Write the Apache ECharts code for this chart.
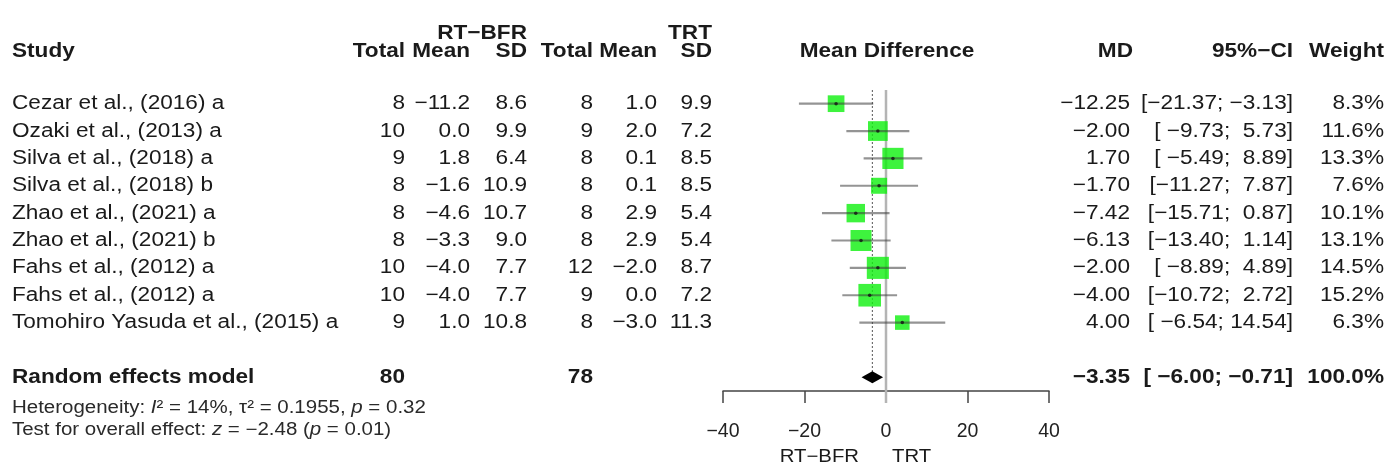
<!DOCTYPE html>
<html>
<head>
<meta charset="utf-8">
<script src="https://cdn.jsdelivr.net/npm/echarts@6/dist/echarts.min.js"></script>
<style>
  html, body { margin: 0; padding: 0; background: #fff; }
  #chart { width: 1400px; height: 470px; }
</style>
</head>
<body>
<div id="chart"></div>
<script>
// study data
const studies = [
  'Cezar et al., (2016) a',
  'Ozaki et al., (2013) a',
  'Silva et al., (2018) a',
  'Silva et al., (2018) b',
  'Zhao et al., (2021) a',
  'Zhao et al., (2021) b',
  'Fahs et al., (2012) a',
  'Fahs et al., (2012) a',
  'Tomohiro Yasuda et al., (2015) a'
];
const totalE = [8, 10, 9, 8, 8, 8, 10, 10, 9];
const meanE = [-11.2, 0.0, 1.8, -1.6, -4.6, -3.3, -4.0, -4.0, 1.0];
const sdE = [8.6, 9.9, 6.4, 10.9, 10.7, 9.0, 7.7, 7.7, 10.8];
const totalC = [8, 9, 8, 8, 8, 8, 12, 9, 8];
const meanC = [1.0, 2.0, 0.1, 0.1, 2.9, 2.9, -2.0, 0.0, -3.0];
const sdC = [9.9, 7.2, 8.5, 8.5, 5.4, 5.4, 8.7, 7.2, 11.3];
const md = [-12.25, -2.00, 1.70, -1.70, -7.42, -6.13, -2.00, -4.00, 4.00];
const ciLow = [-21.37, -9.73, -5.49, -11.27, -15.71, -13.40, -8.89, -10.72, -6.54];
const ciHigh = [-3.13, 5.73, 8.89, 7.87, 0.87, 1.14, 4.89, 2.72, 14.54];
const weight = [8.3, 11.6, 13.3, 7.6, 10.1, 13.1, 14.5, 15.2, 6.3];

const pooledLabel = 'Random effects model';
const pooledTotalE = 80;
const pooledTotalC = 78;
const pooledMd = -3.35;
const pooledLow = -6.00;
const pooledHigh = -0.71;
const pooledWeight = 100.0;

const FONT = '"Liberation Sans", Arial, sans-serif';
const SX = 1.13;
const TXT = '#1a1a1a';
const pooledRow = studies.length + 1;

function fmt(v, d) {
  return (v < 0 ? '\u2212' : '') + Math.abs(v).toFixed(d);
}
function pad(s, w) {
  while (s.length < w) s = ' ' + s;
  return s;
}
function ci(lo, hi) {
  return '[' + pad(fmt(lo, 2), 6) + '; ' + pad(fmt(hi, 2), 5) + ']';
}
function txt(x, y, s, align, bold, size) {
  return {
    type: 'text', x: x, y: y, scaleX: SX,
    style: {
      text: s, fill: TXT, align: align, verticalAlign: 'middle',
      font: (bold ? 'bold ' : '') + (size || 20) + 'px ' + FONT
    }
  };
}

const chart = echarts.init(document.getElementById('chart'));

const tableData = studies.map((s, i) => [0, i]).concat([[0, pooledRow]]);

function renderTable(params, api) {
  const i = params.dataIndex;
  const y = api.coord([0, api.value(1)])[1];
  if (i < studies.length) {
    return {
      type: 'group',
      children: [
        txt(12, y, studies[i], 'left'),
        txt(405, y, String(totalE[i]), 'right'),
        txt(470, y, fmt(meanE[i], 1), 'right'),
        txt(527, y, fmt(sdE[i], 1), 'right'),
        txt(593, y, String(totalC[i]), 'right'),
        txt(657, y, fmt(meanC[i], 1), 'right'),
        txt(712, y, fmt(sdC[i], 1), 'right'),
        txt(1130, y, fmt(md[i], 2), 'right'),
        txt(1293, y, ci(ciLow[i], ciHigh[i]), 'right'),
        txt(1384, y, weight[i].toFixed(1) + '%', 'right')
      ]
    };
  }
  const het = {
    type: 'text', x: 12, y: y + 31, scaleX: 1.17,
    style: {
      text: 'Heterogeneity: {i|I}\u00b2 = 14%, \u03c4\u00b2 = 0.1955, {i|p} = 0.32',
      fill: '#2a2a2a', align: 'left', verticalAlign: 'middle',
      font: '17.5px ' + FONT,
      rich: {
        i: { fontStyle: 'italic', fontSize: 17.5, fontFamily: 'Liberation Sans' }
      }
    }
  };
  const test = {
    type: 'text', x: 12, y: y + 53, scaleX: 1.17,
    style: {
      text: 'Test for overall effect: {i|z} = \u22122.48 ({i|p} = 0.01)',
      fill: '#2a2a2a', align: 'left', verticalAlign: 'middle',
      font: '17.5px ' + FONT,
      rich: {
        i: { fontStyle: 'italic', fontSize: 17.5, fontFamily: 'Liberation Sans' }
      }
    }
  };
  return {
    type: 'group',
    children: [
      txt(12, y, pooledLabel, 'left', true),
      txt(405, y, String(pooledTotalE), 'right', true),
      txt(593, y, String(pooledTotalC), 'right', true),
      txt(1130, y, fmt(pooledMd, 2), 'right', true),
      txt(1293, y, ci(pooledLow, pooledHigh), 'right', true),
      txt(1384, y, pooledWeight.toFixed(1) + '%', 'right', true),
      het, test
    ]
  };
}

const headers = [
  txt(527, 33, 'RT\u2212BFR', 'right', true),
  txt(712, 33, 'TRT', 'right', true),
  txt(12, 51, 'Study', 'left', true),
  txt(405, 51, 'Total', 'right', true),
  txt(470, 51, 'Mean', 'right', true),
  txt(527, 51, 'SD', 'right', true),
  txt(593, 51, 'Total', 'right', true),
  txt(657, 51, 'Mean', 'right', true),
  txt(712, 51, 'SD', 'right', true),
  txt(887, 51, 'Mean Difference', 'center', true),
  txt(1133, 51, 'MD', 'right', true),
  txt(1293, 51, '95%\u2212CI', 'right', true),
  txt(1384, 51, 'Weight', 'right', true)
];

const option = {
  animation: false,
  backgroundColor: '#fff',
  graphic: headers,
  grid: { left: 723, right: 351, top: 90, bottom: 79, outerBoundsMode: 'none' },
  xAxis: {
    type: 'value', min: -40, max: 40, interval: 20,
    axisLine: { show: true, onZero: false, lineStyle: { color: '#444', width: 1.5 } },
    axisTick: { show: true, length: 12, lineStyle: { color: '#444', width: 1.5 } },
    axisLabel: {
      fontSize: 19.5, color: '#222', fontFamily: 'Liberation Sans', margin: 31,
      formatter: v => fmt(v, 0)
    },
    splitLine: { show: false }
  },
  yAxis: { type: 'value', inverse: true, min: -0.5, max: pooledRow + 0.5, show: false },
  series: [
    {
      // reference line at 0 and dotted line at the pooled estimate
      type: 'custom', clip: false, silent: true, z: 1,
      data: [[0, 0], [pooledMd, 1]],
      renderItem: (params, api) => {
        const x = api.value(0);
        const top = api.coord([x, -0.5]);
        if (api.value(1) === 0) {
          const bottom = api.coord([x, pooledRow + 0.5]);
          return { type: 'line', shape: { x1: top[0], y1: top[1], x2: bottom[0], y2: bottom[1] + 12 },
            style: { stroke: '#b4b4b4', lineWidth: 2.5 } };
        }
        const bottom = api.coord([x, pooledRow]);
        return { type: 'line', shape: { x1: top[0], y1: top[1], x2: bottom[0], y2: bottom[1] },
          style: { stroke: '#555', lineWidth: 1, lineDash: [2, 2] } };
      }
    },
    {
      type: 'scatter', symbol: 'rect', silent: true, z: 2,
      data: md.map((v, i) => [v, i, weight[i]]),
      symbolSize: val => 5.8 * Math.sqrt(val[2]),
      itemStyle: { color: '#0ef00e' }
    },
    {
      // confidence intervals
      type: 'custom', clip: false, silent: true, z: 3,
      data: ciLow.map((v, i) => [v, ciHigh[i], i]),
      renderItem: (params, api) => {
        const a = api.coord([api.value(0), api.value(2)]);
        const b = api.coord([api.value(1), api.value(2)]);
        return { type: 'line', shape: { x1: a[0], y1: a[1], x2: b[0], y2: b[1] },
          style: { stroke: 'rgba(60,60,60,0.55)', lineWidth: 2.2 } };
      }
    },
    {
      type: 'scatter', symbol: 'circle', symbolSize: 3.5, silent: true, z: 4,
      data: md.map((v, i) => [v, i]),
      itemStyle: { color: '#111' }
    },
    {
      // pooled diamond
      type: 'custom', clip: false, silent: true, z: 4,
      data: [[pooledLow, pooledMd, pooledHigh, pooledRow]],
      renderItem: (params, api) => {
        const r = api.value(3);
        const l = api.coord([api.value(0), r]);
        const m = api.coord([api.value(1), r]);
        const h = api.coord([api.value(2), r]);
        return { type: 'polygon',
          shape: { points: [[l[0], l[1]], [m[0], m[1] - 6], [h[0], h[1]], [m[0], m[1] + 6]] },
          style: { fill: '#000' } };
      }
    },
    {
      type: 'custom', clip: false, silent: true, z: 5,
      data: tableData,
      renderItem: renderTable
    }
  ]
};

chart.setOption(option);

// axis side labels, placed from the axis scale
const zero = chart.convertToPixel({ gridIndex: 0 }, [0, pooledRow + 0.5]);
chart.setOption({
  graphic: headers.concat([
    txt(zero[0] - 27, zero[1] + 66, 'RT\u2212BFR', 'right', false, 18),
    txt(zero[0] + 6, zero[1] + 66, 'TRT', 'left', false, 18)
  ])
});
</script>
</body>
</html>
